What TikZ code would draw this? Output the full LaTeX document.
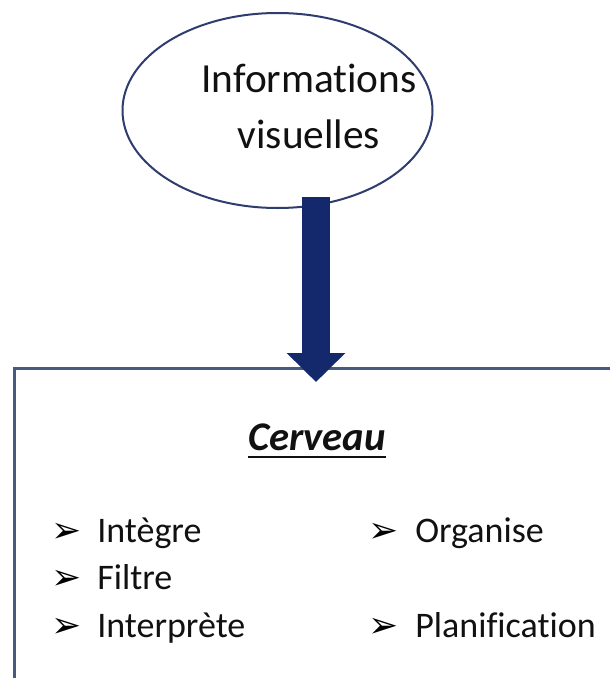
\documentclass[tikz,border=0pt]{standalone}
\usepackage{fontspec}
\setmainfont{Carlito}[Ligatures={NoCommon,NoContextual,NoRare}]
\newfontfamily\symfont{DejaVu Sans}
\usetikzlibrary{shapes.geometric,arrows.meta}
\definecolor{ellline}{HTML}{2F3C6E}
\definecolor{arrowblue}{HTML}{14286C}
\definecolor{boxline}{HTML}{475B7E}
\definecolor{txt}{HTML}{111111}
\begin{document}
\begin{tikzpicture}[x=0.75pt,y=-0.75pt,
  itemtext/.style={font=\fontsize{27}{32}\selectfont, text=txt, inner sep=0pt, anchor=base west},
  bulletmark/.style={font=\symfont\fontsize{27}{32}\selectfont, text=black, inner sep=0pt, anchor=base west},
  bigtext/.style={font=\fontsize{31}{40}\selectfont, text=txt, inner sep=0pt, anchor=base},
]
\useasboundingbox (0,0) rectangle (610,678);
\clip (0,0) rectangle (610,678);
% box
\node[draw=boxline, line width=2.25pt, outer sep=0pt, inner sep=0pt, anchor=north west,
      minimum width=469.5pt, minimum height=264pt] (brain) at (14,368) {};
% ellipse
\node[ellipse, draw=ellline, line width=1.5pt, fill=white, inner sep=0pt,
      minimum width=232.5pt, minimum height=146.25pt] (info) at (277.5,110.5) {};
\node[bigtext] (info1) at (309,92) {Informations};
\node[bigtext] (info2) at (309,148) {visuelles};
% arrow
\coordinate (astart) at (316,197);
\coordinate (aend) at (316,382);
\draw[arrowblue, line width=21pt, -{Triangle[width=42.75pt,length=21.75pt]}] (astart) -- (aend);
% title
\node[font=\bfseries\itshape\fontsize{30.5}{36}\selectfont, text=txt, inner sep=0pt, anchor=base] (cerv) at (317,450) {Cerveau};
\draw[txt, line width=2.2pt] ([yshift=-5.25pt]cerv.base west) -- ([yshift=-5.25pt]cerv.base east);
% items
\node[bulletmark] (b1) at (51,542) {➢};
\node[itemtext] (t1) at (97,542) {Intègre};
\node[bulletmark] (b2) at (51,589) {➢};
\node[itemtext] (t2) at (97,589) {Filtre};
\node[bulletmark] (b3) at (51,637) {➢};
\node[itemtext] (t3) at (97,637) {Interprète};
\node[bulletmark] (b4) at (368,542) {➢};
\node[itemtext] (t4) at (415,542) {Organise};
\node[bulletmark] (b5) at (368,637) {➢};
\node[itemtext] (t5) at (415,637) {Planification};
\end{tikzpicture}
\end{document}
